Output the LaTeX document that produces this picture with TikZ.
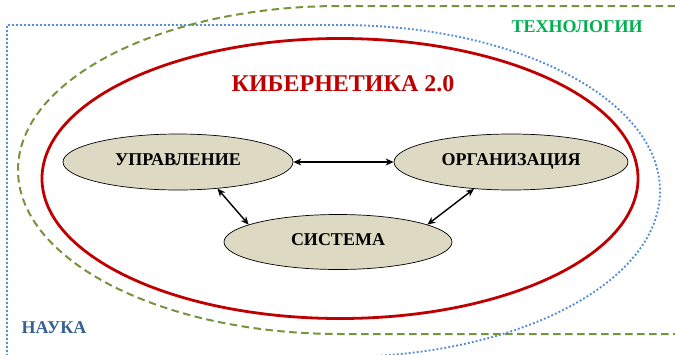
\documentclass[tikz,border=0pt]{standalone}
\usepackage{fontspec}
\setmainfont{Liberation Serif}
\usetikzlibrary{arrows.meta,shapes.geometric}
\definecolor{CyberRed} {HTML}{C00000}
\definecolor{SciBlue}  {HTML}{558ED5}
\definecolor{SciText}  {HTML}{376092}
\definecolor{TechGreen}{HTML}{77933C}
\definecolor{TechText} {HTML}{00B050}
\definecolor{BlobFill} {HTML}{DDD9C3}

\begin{document}
\begin{tikzpicture}[x=1pt, y=-1pt,
  blob/.style={ellipse, draw=black, line width=0.7pt, fill=BlobFill,
    minimum width=230pt, minimum height=56pt, text height=12pt, text depth=5pt,
    font=\fontsize{18}{21}\selectfont\bfseries},
  link/.style={{Stealth[length=8pt,width=7pt]}-{Stealth[length=8pt,width=7pt]},
    line width=1.4pt},
  area/.style={font=\fontsize{18}{21}\selectfont\bfseries, anchor=base}]

  \useasboundingbox (0,0) rectangle (675,354);

  % ===== SCIENCE: dotted, open to the left =====
  \draw[SciBlue, line width=1.9pt, dash pattern=on 1.9pt off 2.1pt]
        (7,356) -- (7,25) -- (340,25)
        arc[start angle=-90, end angle=90, x radius=320, y radius=166];
  \node[area, text=SciText] (sci) at (54,333) {НАУКА};

  % ===== TECHNOLOGY: dashed, open to the right =====
  \draw[TechGreen, line width=2pt, dash pattern=on 7.5pt off 4.5pt]
        (675,6) -- (340,6)
        arc[start angle=-90, end angle=-270, x radius=322, y radius=164]
        -- (675,334);
  \node[area, text=TechText] (tech) at (577,32) {ТЕХНОЛОГИИ};

  % ===== CYBERNETICS 2.0 =====
  \draw[CyberRed, line width=2.8pt] (340,178.5) ellipse[x radius=298, y radius=140];
  \node[text=CyberRed, font=\fontsize{24}{28}\selectfont\bfseries, anchor=base]
        (title) at (343,91) {КИБЕРНЕТИКА 2.0};

  % the three parts
  \node[blob] (upr) at (178,162) {УПРАВЛЕНИЕ};
  \node[blob, minimum width=234pt] (org) at (511,162) {ОРГАНИЗАЦИЯ};
  \node[blob, minimum width=228pt, minimum height=55pt] (sys) at (338,242) {СИСТЕМА};

  % links between them
  \draw[link] (upr.east) -- (org.west);
  \draw[link] (upr.326) -- (sys.169);
  \draw[link] (sys.11) -- (org.216);

\end{tikzpicture}
\end{document}
